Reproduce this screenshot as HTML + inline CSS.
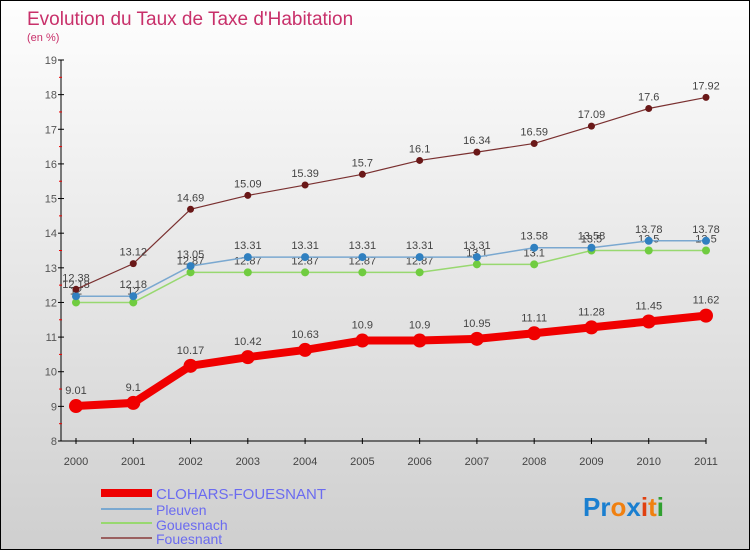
<!DOCTYPE html>
<html><head><meta charset="utf-8"><style>
body{margin:0;}
#wrap{width:748px;height:548px;border:1px solid #000;background:linear-gradient(#fefefe,#cfcfcf);position:relative;font-family:"Liberation Sans",sans-serif;}
</style></head><body>
<div id="wrap">
<svg id="svg" width="748" height="548" style="position:absolute;left:0;top:0">
<text x="26" y="24" font-size="19" fill="#c8306a">Evolution du Taux de Taxe d'Habitation</text>
<text x="26" y="40" font-size="11" fill="#c8306a">(en %)</text>
<g id="axes"></g><g id="series"></g>
<g>
<rect x="100" y="488" width="51" height="8" fill="#e00"/>
<text x="155" y="498" font-size="15" fill="#6b6bf0">CLOHARS-FOUESNANT</text>
<line x1="100" y1="508" x2="151" y2="508" stroke="#7aa8d0" stroke-width="2"/>
<text x="155" y="514" font-size="14" fill="#6b6bf0">Pleuven</text>
<line x1="100" y1="522" x2="151" y2="522" stroke="#98d870" stroke-width="2"/>
<text x="155" y="529" font-size="14" fill="#6b6bf0">Gouesnach</text>
<line x1="100" y1="537" x2="151" y2="537" stroke="#9a6060" stroke-width="2"/>
<text x="155" y="543" font-size="14" fill="#6b6bf0">Fouesnant</text>
</g>
<text x="582" y="515" font-size="26" font-weight="bold"><tspan fill="#1a7fd0">Pr</tspan><tspan fill="#f08010">o</tspan><tspan fill="#1a7fd0">x</tspan><tspan fill="#e04010">i</tspan><tspan fill="#f08010">t</tspan><tspan fill="#30a030">i</tspan></text>
</svg></div>
<script>
const years=[2000,2001,2002,2003,2004,2005,2006,2007,2008,2009,2010,2011];
const clohars=[9.01,9.1,10.17,10.42,10.63,10.9,10.9,10.95,11.11,11.28,11.45,11.62];
const pleuven=[12.18,12.18,13.05,13.31,13.31,13.31,13.31,13.31,13.58,13.58,13.78,13.78];
const gouesnach=[12,12,12.87,12.87,12.87,12.87,12.87,13.1,13.1,13.5,13.5,13.5];
const fouesnant=[12.38,13.12,14.69,15.09,15.39,15.7,16.1,16.34,16.59,17.09,17.6,17.92];
const yTicks=[8,9,10,11,12,13,14,15,16,17,18,19];
const NS="http://www.w3.org/2000/svg";
const X=i=>75+i*(630/11), Y=v=>440-(v-8)*(381/11);
function mk(t,a,p){const e=document.createElementNS(NS,t);for(const k in a)e.setAttribute(k,a[k]);p.appendChild(e);return e;}
const ax=document.getElementById('axes');
let e=mk('line',{x1:60,y1:59,x2:60,y2:440,stroke:'#000'},ax);


e=mk('line',{x1:60,y1:440,x2:705,y2:440,stroke:'#000'},ax);


yTicks.forEach(v=>{
 mk('line',{x1:57,y1:Y(v),x2:63,y2:Y(v),stroke:'#000'},ax);
 if(v<19)mk('line',{x1:58,y1:Y(v+0.5),x2:61,y2:Y(v+0.5),stroke:'#e00'},ax);
 const t=mk('text',{x:56,y:Y(v)+4,'font-size':11,fill:'#555','text-anchor':'end'},ax);t.textContent=v;
 
 
});
years.forEach((y,i)=>{
 mk('line',{x1:X(i),y1:437,x2:X(i),y2:443,stroke:'#000'},ax);
 const t=mk('text',{x:X(i),y:464,'font-size':11,fill:'#444','text-anchor':'middle'},ax);t.textContent=y;
 
 
});
const sg=document.getElementById('series');
function series(vals,name,color,dot,w,r,dy){
 const g=mk('g',{},sg);
 
 
 mk('polyline',{points:vals.map((v,i)=>X(i)+','+Y(v)).join(' '),fill:'none',stroke:color,'stroke-width':w},g);
 vals.forEach((v,i)=>{
  const c=mk('circle',{cx:X(i),cy:Y(v),r:r,fill:dot},g);
  
  
  const t=mk('text',{x:X(i),y:Y(v)-dy,'font-size':11,fill:'#444','text-anchor':'middle'},g);t.textContent=v;
  
  
 });
}
series(gouesnach,'gouesnach','#98d870','#70cc40',1.5,4,8);
series(pleuven,'pleuven','#7aa8d0','#3080c0',1.5,4,8);
series(fouesnant,'fouesnant','#7a3030','#6a1818',1.2,3.5,8);
series(clohars,'clohars','#f00000','#f00000',8,7,12);
</script>
</body></html>
